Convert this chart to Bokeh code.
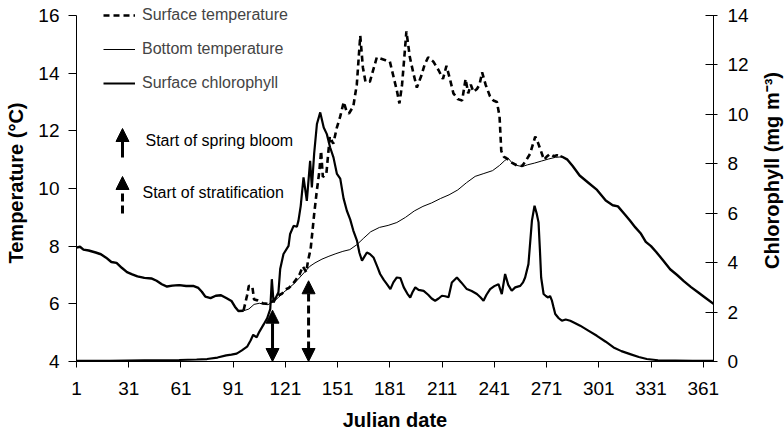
import math
from bokeh.plotting import figure
from bokeh.layouts import row
from bokeh.models import (Range1d, LinearAxis, FixedTicker, Legend, LegendItem,
                          Label, Arrow, NormalHead)
from bokeh.embed import file_html
from bokeh.resources import INLINE

# ---------------- data ----------------
x_ticks = [1, 31, 61, 91, 121, 151, 181, 211, 241, 271, 301, 331, 361]
temp_ticks = [4, 6, 8, 10, 12, 14, 16]
chl_ticks = [0, 2, 4, 6, 8, 10, 12, 14]

bottom_day = [1, 3, 5, 8, 12, 15, 18, 21, 24, 27, 30, 33, 36, 40, 44, 47, 50, 53, 56,
              60, 64, 68, 71, 73, 75, 78, 81, 84, 87, 90, 92, 94, 97, 100, 103, 106,
              109, 111, 114, 117, 120, 123, 126, 129, 132, 135, 138, 142, 146, 150,
              154, 158, 162, 166, 170, 175, 180, 185, 190, 195, 200, 205, 210, 215,
              220, 225, 230, 235, 240, 244, 247, 249, 251, 254, 257, 260, 264, 268,
              272, 276, 280, 283, 286, 290, 295, 300, 305, 309, 312, 316, 319, 322,
              325, 328, 331, 334, 338, 342, 346, 350, 354, 358, 362, 366.9]
bottom_temp = [7.95, 7.98, 7.88, 7.85, 7.78, 7.72, 7.6, 7.45, 7.42, 7.25, 7.1, 7.02,
               6.95, 6.9, 6.88, 6.8, 6.68, 6.6, 6.63, 6.65, 6.62, 6.62, 6.55, 6.42,
               6.25, 6.2, 6.28, 6.3, 6.2, 6.1, 5.9, 5.75, 5.76, 5.82, 5.98, 6.02, 5.98,
               5.97, 6.08, 6.22, 6.4, 6.55, 6.7, 6.9, 7.1, 7.3, 7.42, 7.55, 7.65, 7.74,
               7.82, 7.88, 8.05, 8.28, 8.5, 8.65, 8.72, 8.82, 9.0, 9.22, 9.38, 9.5,
               9.65, 9.78, 9.95, 10.2, 10.42, 10.52, 10.62, 10.8, 10.97, 11.05, 10.9,
               10.8, 10.76, 10.82, 10.88, 10.95, 11.02, 11.08, 11.1, 11.0, 10.78,
               10.45, 10.2, 9.95, 9.58, 9.42, 9.38, 9.1, 8.88, 8.65, 8.45, 8.15, 8.0,
               7.8, 7.5, 7.2, 7.0, 6.78, 6.58, 6.4, 6.22, 6.0]

# surface temperature during the season where it departs from the bottom one
surface_day = [97, 99, 100, 102, 103, 105, 108, 111, 114, 117, 119, 121, 123, 126,
               129, 131, 133, 134, 135.5, 136.5, 137.5, 139, 140.5, 141.5, 142.5,
               144.5, 146.5, 148.5, 150.5, 152.5, 154.5, 156, 157.5, 160, 162, 164,
               165.5, 167, 169.5, 173.5, 176, 178.5, 181, 183, 185, 186.5, 188,
               189.5, 190.5, 192.5, 194.5, 196.5, 199, 201, 203, 206, 209, 211.5,
               213.5, 215.5, 217.5, 220, 222.5, 224.5, 226, 227.5, 229, 231, 232.5,
               234, 236, 238.5, 240.5, 242.5, 244, 245, 246.5, 248, 251, 254, 257,
               259.5, 261.5, 263.5, 264.5, 266, 267.5, 269.5, 271, 273, 275, 277,
               279]
surface_temp = [5.78, 6.3, 6.63, 6.6, 6.15, 6.12, 6.02, 6.0, 6.1, 6.3, 6.35, 6.5,
                6.55, 6.75, 7.0, 7.3, 7.1, 7.5, 7.9, 8.5, 9.1, 9.9, 10.6, 11.3, 10.4,
                10.5, 11.8, 11.55, 12.1, 12.5, 13.0, 12.7, 12.6, 12.85, 13.6, 15.3,
                14.2, 13.7, 13.7, 14.55, 14.5, 14.45, 14.4, 13.9, 13.4, 12.95, 13.6,
                14.7, 15.45, 14.55, 14.0, 13.5, 13.9, 14.3, 14.55, 14.4, 14.1, 13.8,
                14.25, 13.8, 13.3, 13.1, 13.05, 13.8, 13.3, 13.6, 13.35, 13.45, 13.6,
                14.03, 13.6, 13.2, 13.05, 13.0, 12.5, 11.3, 11.1, 11.05, 10.9, 10.8,
                10.78, 11.0, 11.2, 11.6, 11.8, 11.6, 11.35, 11.0, 11.1, 11.2, 11.12,
                11.15, 11.12]

chl_day = [1, 20, 40, 60, 70, 76, 82, 87, 90, 93, 96, 99, 101, 102.5, 104.5, 106,
           108.5, 110.5, 112.3, 113.2, 114.2, 117, 118, 119.9, 122.8, 123.7, 125.7,
           127.6, 128.5, 129.8, 131.4, 132.5, 133.3, 135.2, 136.2, 137.5, 139.1, 141,
           143, 144.8, 146.7, 148.6, 150.6, 152.5, 154.4, 156.3, 158.2, 160, 162.1,
           163.5, 165, 167.8, 169.5, 171.6, 174, 175.4, 177.5, 179.3, 181.3, 183,
           185, 187, 189, 191, 192.7, 194, 195.6, 197.5, 200.4, 203, 205, 207, 209,
           210.9, 212.8, 214.7, 216.6, 219.5, 222, 225.2, 228, 231, 233, 234.8,
           236.5, 238.6, 241, 243.4, 244.5, 245.3, 247.2, 249, 251, 253, 255.9,
           257.5, 258.7, 260.6, 262.6, 264.1, 265.3, 266.4, 267.2, 267.9, 269.3,
           270.6, 271.9, 273, 274.1, 275, 276, 278, 279.8, 282, 284.6, 287.5, 290.3,
           295, 299.9, 305, 309.5, 314, 319, 324, 328.6, 335, 345, 355, 366.9]
chl_val = [0.03, 0.03, 0.05, 0.06, 0.08, 0.1, 0.16, 0.25, 0.28, 0.32, 0.45, 0.6,
           0.85, 1.08, 0.98, 1.2, 1.5, 1.75, 2.12, 3.33, 2.39, 2.8, 3.74, 4.35, 4.68,
           5.16, 5.49, 5.45, 5.7, 6.3, 7.45, 6.9, 6.5, 8.12, 7.04, 8.4, 9.61, 10.08,
           9.47, 9.2, 8.66, 8.26, 7.59, 7.4, 6.6, 6.1, 5.75, 5.3, 4.89, 4.4, 4.08,
           4.41, 4.35, 4.21, 3.8, 3.54, 3.3, 3.13, 2.93, 3.2, 3.4, 3.38, 3.0, 2.75,
           2.59, 2.8, 3.0, 2.9, 2.86, 2.7, 2.55, 2.46, 2.55, 2.66, 2.64, 2.6, 3.2,
           3.4, 3.2, 2.93, 2.85, 2.73, 2.6, 2.46, 2.7, 2.93, 3.05, 3.13, 2.9, 2.73,
           3.54, 3.1, 2.86, 3.0, 3.06, 3.2, 3.4, 3.94, 5.7, 6.3, 6.0, 5.63, 4.5, 3.4,
           2.73, 2.65, 2.59, 2.65, 2.46, 2.2, 1.92, 1.75, 1.65, 1.7, 1.65, 1.55, 1.45,
           1.25, 1.04, 0.8, 0.57, 0.42, 0.3, 0.18, 0.1, 0.05, 0.04, 0.03, 0.03]

event_names = ["Start of spring bloom", "Start of stratification"]
event_days = [113.6, 134.3]
event_tip_temp = [5.78, 6.8]

# mixed periods: surface equals bottom temperature (drawn as one thick trace)
mix1_x = [d for d in bottom_day if d <= surface_day[0]]
mix1_y = [t for d, t in zip(bottom_day, bottom_temp) if d <= surface_day[0]]
mix2_x = [surface_day[-1]] + [d for d in bottom_day if d > surface_day[-1]]
mix2_y = [surface_temp[-1]] + [t for d, t in zip(bottom_day, bottom_temp) if d > surface_day[-1]]

# ---------------- figure ----------------
FONT = "Liberation Sans"
W, H = 755, 435
LEFT, RIGHT, TOP, BOTTOM = 76, 713, 4, 361      # frame edges in px
AXIS_TOP = 15                                   # where 16 / 14 sit
span = BOTTOM - AXIS_TOP
t_lo, t_hi = temp_ticks[0], temp_ticks[-1]
c_lo, c_hi = chl_ticks[0], chl_ticks[-1]
t_pad = (AXIS_TOP - TOP) * (t_hi - t_lo) / span
c_pad = (AXIS_TOP - TOP) * (c_hi - c_lo) / span

p = figure(width=W, height=H, output_backend="svg", toolbar_location=None,
           x_range=Range1d(1, 366.9), y_range=Range1d(t_lo, t_hi + t_pad),
           min_border_left=LEFT, min_border_right=W - RIGHT, min_border_top=TOP,
           min_border_bottom=H - BOTTOM)
p.xgrid.visible = False
p.ygrid.visible = False
p.outline_line_color = None
p.background_fill_color = "white"
p.border_fill_color = "white"
p.extra_y_ranges = {"chl": Range1d(c_lo, c_hi + c_pad)}

def style_axis(ax, ticks, tin, tout, standoff):
    ax.ticker = FixedTicker(ticks=ticks)
    ax.minor_tick_line_color = None
    ax.major_tick_in = tin
    ax.major_tick_out = tout
    ax.axis_line_color = "black"
    ax.major_tick_line_color = "black"
    ax.major_label_text_font = FONT
    ax.major_label_text_font_size = "19px"
    ax.major_label_text_color = "black"
    ax.major_label_standoff = standoff
    ax.axis_label_text_font = FONT
    ax.axis_label_text_font_size = "20px"
    ax.axis_label_text_font_style = "bold"
    ax.axis_label_text_color = "black"

xa = p.xaxis[0]
style_axis(xa, x_ticks, 0, 6, 14)
xa.axis_label = "Julian date"
xa.axis_label_standoff = 11

ya = p.yaxis[0]
style_axis(ya, temp_ticks, 0, 8, 9)
ya.bounds = (t_lo, t_hi)
ya.axis_label = "Temperature (\u00b0C)"
ya.axis_label_standoff = 8

rax = LinearAxis(y_range_name="chl")
style_axis(rax, chl_ticks, 8, 4, 10)
rax.bounds = (c_lo, c_hi)
p.add_layout(rax, "right")

p.line(mix1_x, mix1_y, line_color="black", line_width=2.4)
p.line(mix2_x, mix2_y, line_color="black", line_width=2.4)
surf = p.line(surface_day, surface_temp, line_color="black", line_width=2.6,
              line_dash="6 4")
bott = p.line(bottom_day, bottom_temp, line_color="black", line_width=1)
chl = p.line(chl_day, chl_val, line_color="black", line_width=2.2, y_range_name="chl")

legend = Legend(items=[LegendItem(label="Surface temperature", renderers=[surf]),
                       LegendItem(label="Bottom temperature", renderers=[bott]),
                       LegendItem(label="Surface chlorophyll", renderers=[chl])],
                location=(27, 268), glyph_width=32, glyph_height=20, label_height=20,
                spacing=14, label_standoff=7, padding=0, margin=0,
                border_line_color=None, background_fill_alpha=0,
                label_text_font=FONT, label_text_font_size="16px")
p.add_layout(legend)

# event arrows on the chart (double headed, from the axis up)
dashes = [None, "8 4"]
for d, tip, dash in zip(event_days, event_tip_temp, dashes):
    kw = dict(line_dash=dash) if dash else {}
    p.add_layout(Arrow(x_start=d, y_start=t_lo, x_end=d, y_end=tip,
                       start=NormalHead(size=13, fill_color="black", line_color="black"),
                       end=NormalHead(size=13, fill_color="black", line_color="black"),
                       line_width=3, line_color="black", **kw))

# arrow key (screen px from the frame's bottom-left corner)
key_rows = [(204, 233, 221, 69), (148, 185, 169, 66)]
for (ys, ye, ty, tx), dash, name in zip(key_rows, dashes, event_names):
    kw = dict(line_dash=dash) if dash else {}
    p.add_layout(Arrow(x_start=46, y_start=ys, x_end=46, y_end=ye,
                       start_units="screen", end_units="screen",
                       end=NormalHead(size=13, fill_color="black", line_color="black"),
                       line_width=3, line_color="black", **kw))
    p.add_layout(Label(x=tx, y=ty, x_units="screen", y_units="screen", text=name,
                       text_font=FONT, text_font_size="16px", text_baseline="middle",
                       text_align="left", text_color="black"))

# narrow strip on the right holding the right axis title (reads bottom to top);
# its frame lines up with the main frame, so y is measured from y = BOTTOM
q = figure(width=784 - W, height=H, output_backend="svg", toolbar_location=None,
           x_range=Range1d(0, 1), y_range=Range1d(0, 1), x_axis_type=None,
           y_axis_type=None, min_border_left=0, min_border_right=0,
           min_border_top=0, min_border_bottom=0)
q.outline_line_color = None
q.background_fill_color = "white"
q.border_fill_color = "white"
q.add_layout(Label(x=16, y=BOTTOM - 170, x_units="screen", y_units="screen",
                   text="Chlorophyll (mg m\u207b\u00b3)", angle=math.pi / 2,
                   text_font=FONT, text_font_size="20px", text_font_style="bold",
                   text_align="center", text_baseline="middle", text_color="black"))

open("out.html", "w").write(file_html(row(p, q), INLINE))
